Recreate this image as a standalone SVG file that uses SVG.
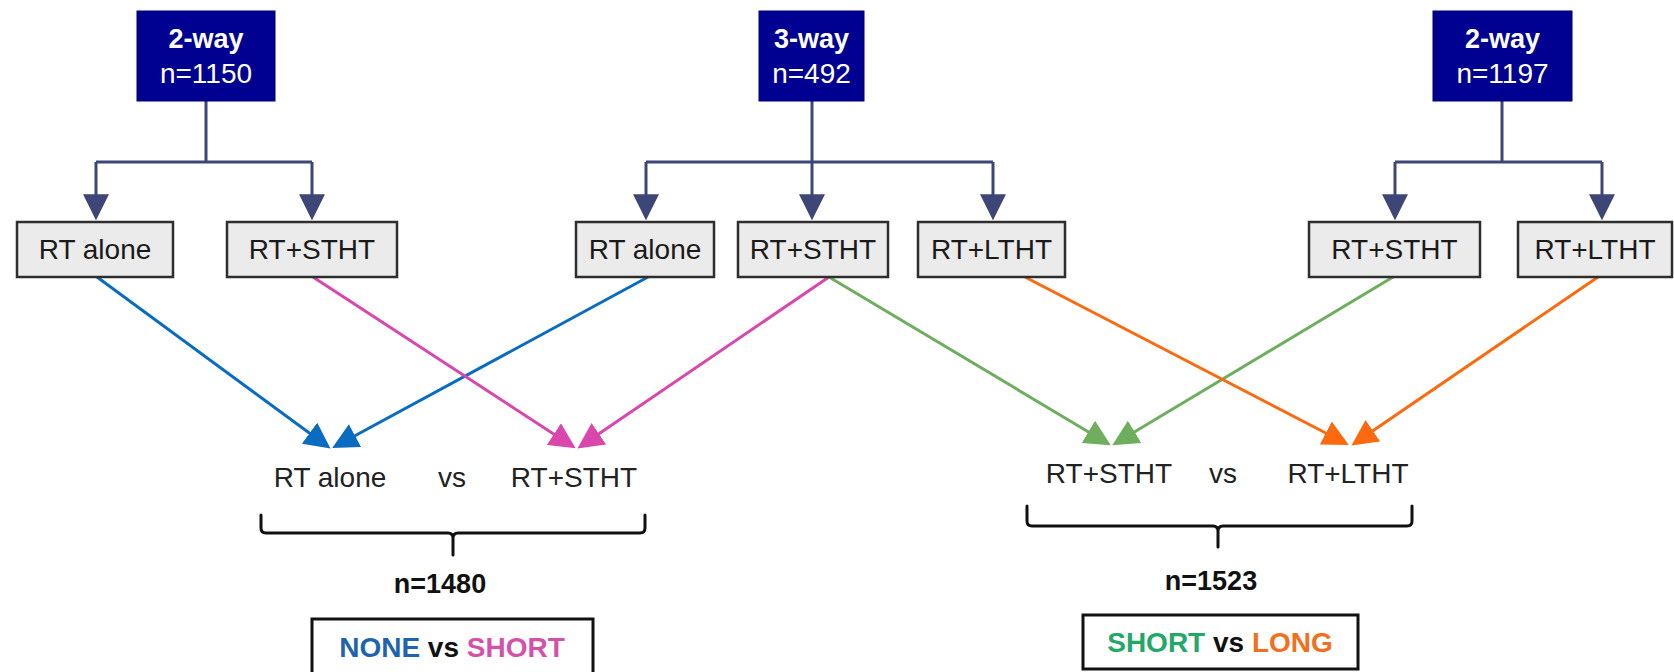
<svg xmlns="http://www.w3.org/2000/svg" width="1674" height="672" viewBox="0 0 1674 672">
<style>
text{font-family:"Liberation Sans",Arial,sans-serif}
.top rect{fill:#000091;stroke:#000070;stroke-width:1}
.top text{fill:#fff;font-size:28px;text-anchor:middle}
.top .b{font-weight:bold;font-size:27px}
.arm rect{fill:#ebebeb;stroke:#2e2e2e;stroke-width:2.5}
.arm text{fill:#1a1a1a;font-size:28px;text-anchor:middle}
.tree{fill:none;stroke:#3d4677;stroke-width:3}
.c{fill:none;stroke-width:3}
.lbl{fill:#222;font-size:28px;text-anchor:middle}
.brace{fill:none;stroke:#111;stroke-width:3;stroke-linecap:round}
.n{fill:#111;font-size:27px;font-weight:bold;text-anchor:middle}
.res rect{fill:#fff;stroke:#111;stroke-width:3}
.res text{font-size:28px;font-weight:bold;text-anchor:middle;fill:#111}
</style>
<defs>
<marker id="mN" markerUnits="userSpaceOnUse" markerWidth="26" markerHeight="26" viewBox="0 0 24 24" refX="20" refY="12" orient="auto"><path d="M0,0 L24,12 L0,24 z" fill="#3d4677"/></marker>
<marker id="mB" markerUnits="userSpaceOnUse" markerWidth="26" markerHeight="26" viewBox="0 0 24 24" refX="20" refY="12" orient="auto"><path d="M0,0 L24,12 L0,24 z" fill="#0a6cc0"/></marker>
<marker id="mP" markerUnits="userSpaceOnUse" markerWidth="26" markerHeight="26" viewBox="0 0 24 24" refX="20" refY="12" orient="auto"><path d="M0,0 L24,12 L0,24 z" fill="#d947ad"/></marker>
<marker id="mG" markerUnits="userSpaceOnUse" markerWidth="26" markerHeight="26" viewBox="0 0 24 24" refX="20" refY="12" orient="auto"><path d="M0,0 L24,12 L0,24 z" fill="#6eae5e"/></marker>
<marker id="mO" markerUnits="userSpaceOnUse" markerWidth="26" markerHeight="26" viewBox="0 0 24 24" refX="20" refY="12" orient="auto"><path d="M0,0 L24,12 L0,24 z" fill="#fb6a0e"/></marker>
</defs>

<g id="connectors">
  <path class="tree" d="M206,101 V162 M96,162 H312"/>
  <path class="tree" d="M96,162 V216" marker-end="url(#mN)"/>
  <path class="tree" d="M312,162 V216" marker-end="url(#mN)"/>
  <path class="tree" d="M646,162 H993"/>
  <path class="tree" d="M812,101 V216" marker-end="url(#mN)"/>
  <path class="tree" d="M646,162 V216" marker-end="url(#mN)"/>
  <path class="tree" d="M993,162 V216" marker-end="url(#mN)"/>
  <path class="tree" d="M1502,101 V162 M1395,162 H1602"/>
  <path class="tree" d="M1395,162 V216" marker-end="url(#mN)"/>
  <path class="tree" d="M1602,162 V216" marker-end="url(#mN)"/>

  <line class="c" stroke="#0a6cc0" x1="97" y1="277" x2="327" y2="446" marker-end="url(#mB)"/>
  <line class="c" stroke="#0a6cc0" x1="648" y1="277" x2="336" y2="446" marker-end="url(#mB)"/>
  <line class="c" stroke="#d947ad" x1="313" y1="277" x2="572" y2="446" marker-end="url(#mP)"/>
  <line class="c" stroke="#d947ad" x1="829" y1="277" x2="581" y2="446" marker-end="url(#mP)"/>
  <line class="c" stroke="#6eae5e" x1="829" y1="277" x2="1107" y2="443" marker-end="url(#mG)"/>
  <line class="c" stroke="#6eae5e" x1="1393" y1="277" x2="1116" y2="443" marker-end="url(#mG)"/>
  <line class="c" stroke="#fb6a0e" x1="1025" y1="277" x2="1345" y2="443" marker-end="url(#mO)"/>
  <line class="c" stroke="#fb6a0e" x1="1598" y1="277" x2="1355" y2="443" marker-end="url(#mO)"/>
</g>

<g id="top-left" class="top">
  <rect x="137" y="11" width="138" height="90"/>
  <text class="b" x="206" y="48">2-way</text>
  <text x="206" y="83">n=1150</text>
</g>
<g id="top-mid" class="top">
  <rect x="759" y="11" width="105" height="90"/>
  <text class="b" x="811.5" y="48">3-way</text>
  <text x="811.5" y="83">n=492</text>
</g>
<g id="top-right" class="top">
  <rect x="1433" y="11" width="139" height="90"/>
  <text class="b" x="1502.5" y="48">2-way</text>
  <text x="1502.5" y="83">n=1197</text>
</g>

<g id="l-rtalone" class="arm"><rect x="17" y="222" width="156" height="55"/><text x="95" y="259">RT alone</text></g>
<g id="l-rtstht" class="arm"><rect x="227" y="222" width="170" height="55"/><text x="312" y="259">RT+STHT</text></g>
<g id="m-rtalone" class="arm"><rect x="576" y="222" width="138" height="55"/><text x="645" y="259">RT alone</text></g>
<g id="m-rtstht" class="arm"><rect x="738" y="222" width="150" height="55"/><text x="813" y="259">RT+STHT</text></g>
<g id="m-rtltht" class="arm"><rect x="918" y="222" width="147" height="55"/><text x="991.5" y="259">RT+LTHT</text></g>
<g id="r-rtstht" class="arm"><rect x="1309" y="222" width="171" height="55"/><text x="1394.5" y="259">RT+STHT</text></g>
<g id="r-rtltht" class="arm"><rect x="1518" y="222" width="154" height="55"/><text x="1595" y="259">RT+LTHT</text></g>

<g id="cmp-left">
  <text class="lbl" x="330" y="487">RT alone</text>
  <text class="lbl" x="452" y="487">vs</text>
  <text class="lbl" x="574" y="487">RT+STHT</text>
  <path class="brace" d="M261,515 V528 Q261,533 266,533 H448 Q453,533 453,538 V555 M453,538 Q453,533 458,533 H640 Q645,533 645,528 V515"/>
  <text class="n" x="440" y="593">n=1480</text>
</g>
<g id="res-left" class="res">
  <rect x="312" y="619" width="281" height="62"/>
  <text x="452" y="657"><tspan fill="#1f63b0">NONE</tspan> vs <tspan fill="#d352a9">SHORT</tspan></text>
</g>

<g id="cmp-right">
  <text class="lbl" x="1109" y="483">RT+STHT</text>
  <text class="lbl" x="1223" y="483">vs</text>
  <text class="lbl" x="1348" y="483">RT+LTHT</text>
  <path class="brace" d="M1027,506 V521 Q1027,526 1032,526 H1213 Q1218,526 1218,531 V547 M1218,531 Q1218,526 1223,526 H1407 Q1412,526 1412,521 V506"/>
  <text class="n" x="1211" y="590">n=1523</text>
</g>
<g id="res-right" class="res">
  <rect x="1083" y="615" width="275" height="54"/>
  <text x="1220" y="652"><tspan fill="#23a868">SHORT</tspan> vs <tspan fill="#f0701e">LONG</tspan></text>
</g>
</svg>
